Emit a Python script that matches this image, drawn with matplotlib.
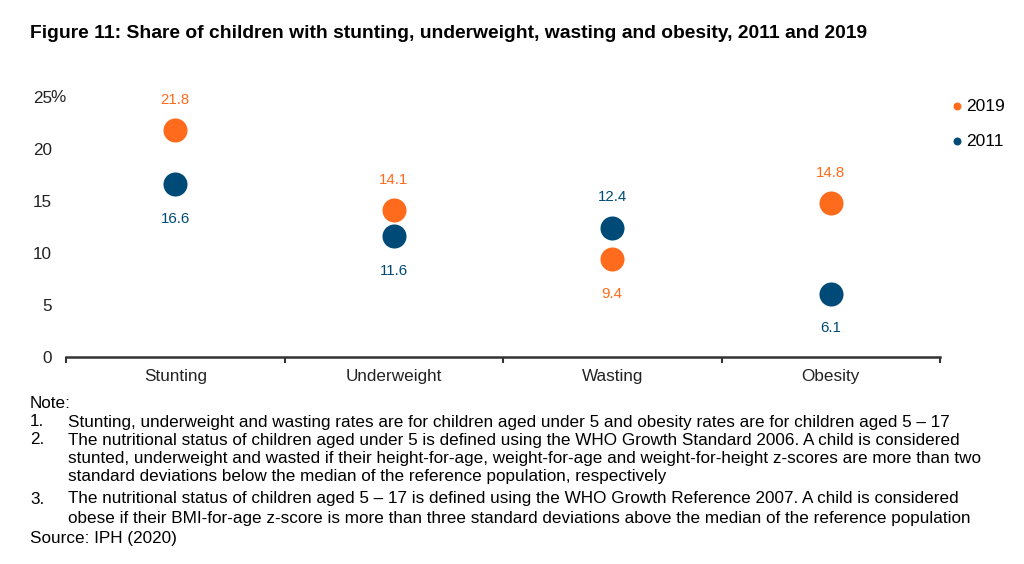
import matplotlib.pyplot as plt
import numpy as np

plt.rcParams['font.family'] = ['Liberation Sans', 'DejaVu Sans']

# donnees
categories = ['Stunting', 'Underweight', 'Wasting', 'Obesity']
valeurs_2019 = [21.8, 14.1, 9.4, 14.8]
valeurs_2011 = [16.6, 11.6, 12.4, 6.1]
yticks = [0, 5, 10, 15, 20, 25]

orange = '#FF6B1C'
bleu = '#004A78'
gris = '#333333'

fig = plt.figure(figsize=(10.24, 5.64), dpi=100)
ax = fig.add_axes([66/1024, 1-357/564, (940-66)/1024, (357-97)/564])

x = np.arange(len(categories)) + 0.5
p1 = ax.scatter(x, valeurs_2019, s=300, color=orange, zorder=3, label='2019', linewidths=0)
p2 = ax.scatter(x, valeurs_2011, s=300, color=bleu, zorder=3, label='2011', linewidths=0)

# etiquettes : au dessus pour la plus grande valeur, en dessous pour l'autre
for i in range(len(categories)):
    a = valeurs_2019[i]
    b = valeurs_2011[i]
    for v, c, haut in ((a, orange, a >= b), (b, bleu, b > a)):
        dy = 22 if haut else -25
        ax.annotate(f'{v:.1f}', xy=(x[i], v), xytext=(0, dy), textcoords='offset points',
                    ha='center', va='center', color=c, fontsize=10.8)

ax.set_xlim(0, len(categories))
ax.set_ylim(0, 25)
ax.set_xticks(x)
ax.set_xticklabels(categories, fontsize=12.3, color='#222222')
ax.set_xticks(np.arange(len(categories) + 1), minor=True)
ax.tick_params(axis='x', which='major', length=0, pad=9)
ax.tick_params(axis='x', which='minor', length=4, width=1.5, color=gris, direction='out')

ax.set_yticks(yticks)
ax.set_yticklabels([str(t) for t in yticks], fontsize=12.3, color='#222222')
ax.tick_params(axis='y', length=0, pad=10)
ax.annotate('%', xy=(0, 25), xycoords=('axes fraction', 'data'), xytext=(-11, 0),
            textcoords='offset points', ha='left', va='center', fontsize=12.3, color='#222222')

for s in ['top', 'right', 'left']:
    ax.spines[s].set_visible(False)
ax.spines['bottom'].set_color(gris)
ax.spines['bottom'].set_linewidth(1.8)

leg = ax.legend(handles=[p1, p2], loc='upper left', bbox_to_anchor=(933/1024, 1-83/564),
                bbox_transform=fig.transFigure, frameon=False, markerscale=0.33,
                handletextpad=0.0, labelspacing=1.15, fontsize=12.5, handlelength=1.0)

fig.text(30/1024, 1-33/564, 'Figure 11: Share of children with stunting, underweight, wasting and obesity, 2011 and 2019',
         fontsize=13.9, fontweight='bold', va='center', ha='left')

# notes
notes = [
    (None, 'Note:', 403),
    ('1.', 'Stunting, underweight and wasting rates are for children aged under 5 and obesity rates are for children aged 5 \u2013 17', 422),
    ('2.', 'The nutritional status of children aged under 5 is defined using the WHO Growth Standard 2006. A child is considered', 440),
    (None, 'stunted, underweight and wasted if their height-for-age, weight-for-age and weight-for-height z-scores are more than two', 458),
    (None, 'standard deviations below the median of the reference population, respectively', 476),
    ('3.', 'The nutritional status of children aged 5 \u2013 17 is defined using the WHO Growth Reference 2007. A child is considered', 499),
    (None, 'obese if their BMI-for-age z-score is more than three standard deviations above the median of the reference population', 519),
    (None, 'Source: IPH (2020)', 539),
]
for num, texte, yp in notes:
    if num is None and texte in ('Note:', 'Source: IPH (2020)'):
        fig.text(30/1024, 1-yp/564, texte, fontsize=12.3, va='center', ha='left')
    else:
        if num is not None:
            fig.text(30/1024, 1-yp/564, num, fontsize=12.3, va='center', ha='left')
        fig.text(68/1024, 1-yp/564, texte, fontsize=12.3, va='center', ha='left')

fig.savefig('out.png', dpi=100)
